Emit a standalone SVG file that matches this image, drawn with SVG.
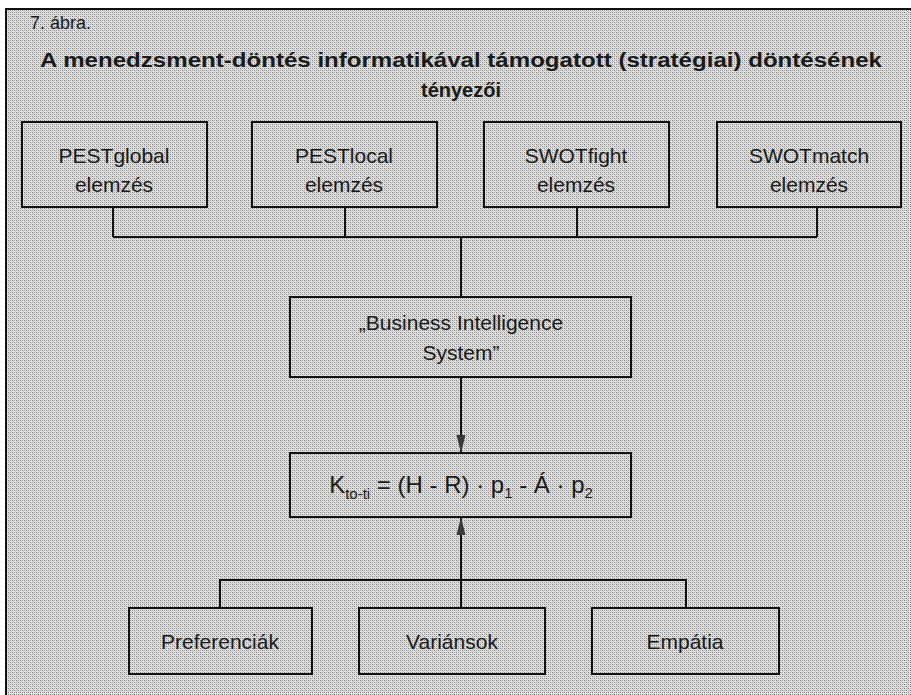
<svg xmlns="http://www.w3.org/2000/svg" width="911" height="695" viewBox="0 0 911 695">
  <defs>
    <pattern id="dots" width="4" height="4" patternUnits="userSpaceOnUse">
      <rect width="4" height="4" fill="#e2e2e2"/>
      <rect x="0" y="0" width="1" height="1" fill="#7e7e7e"/>
      <rect x="2" y="2" width="1" height="1" fill="#7e7e7e"/>
      <rect x="2" y="0" width="1" height="1" fill="#a8a8a8"/>
      <rect x="0" y="2" width="1" height="1" fill="#a8a8a8"/>
      <rect x="1" y="1" width="1" height="1" fill="#c8c8c8"/>
      <rect x="3" y="3" width="1" height="1" fill="#c8c8c8"/>
    </pattern>
    <marker id="arrow" viewBox="0 0 18 10" refX="18" refY="5" markerWidth="18" markerHeight="10" markerUnits="userSpaceOnUse" orient="auto">
      <path d="M0,0.5 L18,5 L0,9.5 Z" fill="#3a3a3a"/>
    </marker>
  </defs>
  <style>
    .box { fill: none; stroke: #111; stroke-width: 2; }
    .line { fill: none; stroke: #111; stroke-width: 2; }
    .t { font-family: "Liberation Sans", "DejaVu Sans", sans-serif; font-size: 21px; fill: #1a1a1a; text-anchor: middle; }
    .title { font-family: "Liberation Sans", "DejaVu Sans", sans-serif; font-size: 20px; font-weight: bold; fill: #1a1a1a; text-anchor: middle; }
  </style>

  <rect x="0" y="0" width="911" height="695" fill="#ffffff"/>
  <rect x="6" y="9" width="915" height="700" fill="url(#dots)" stroke="#111" stroke-width="2"/>

  <text x="30" y="29" style="font-family:'Liberation Sans','DejaVu Sans',sans-serif;font-size:18px;fill:#1a1a1a">7. ábra.</text>
  <text class="title" x="461" y="67" textLength="842" lengthAdjust="spacingAndGlyphs">A menedzsment-döntés informatikával támogatott (stratégiai) döntésének</text>
  <text class="title" x="461" y="97">tényezői</text>

  <g id="connectors">
    <path class="line" d="M113,207 V237 M345,207 V237 M577,207 V237 M817,207 V237 M113,237 H817 M461,237 V297"/>
    <path class="line" d="M461,377 V453" marker-end="url(#arrow)"/>
    <path class="line" d="M220,608 V580 H686 V608 M461,608 V517" marker-end="url(#arrow)"/>
  </g>

  <g id="pestglobal">
    <rect class="box" x="22" y="122" width="185" height="85"/>
    <text class="t" x="114" y="163">PESTglobal</text>
    <text class="t" x="114" y="192">elemzés</text>
  </g>
  <g id="pestlocal">
    <rect class="box" x="252" y="122" width="185" height="85"/>
    <text class="t" x="344" y="163">PESTlocal</text>
    <text class="t" x="344" y="192">elemzés</text>
  </g>
  <g id="swotfight">
    <rect class="box" x="484" y="122" width="185" height="85"/>
    <text class="t" x="576" y="163">SWOTfight</text>
    <text class="t" x="576" y="192">elemzés</text>
  </g>
  <g id="swotmatch">
    <rect class="box" x="717" y="122" width="184" height="85"/>
    <text class="t" x="809" y="163">SWOTmatch</text>
    <text class="t" x="809" y="192">elemzés</text>
  </g>

  <g id="bis">
    <rect class="box" x="290" y="297" width="341" height="80"/>
    <text class="t" x="461" y="330">„Business Intelligence</text>
    <text class="t" x="461" y="360">System”</text>
  </g>

  <g id="formula">
    <rect class="box" x="290" y="453" width="341" height="64"/>
    <text x="461" y="493" style="font-family:'Liberation Sans','DejaVu Sans',sans-serif;font-size:24px;fill:#1a1a1a;text-anchor:middle">K<tspan font-size="15" dy="6">to-ti</tspan><tspan dy="-6"> = (H - R) · p</tspan><tspan font-size="15" dy="5">1</tspan><tspan dy="-5"> - Á · p</tspan><tspan font-size="15" dy="5">2</tspan></text>
  </g>

  <g id="preferenciak">
    <rect class="box" x="129" y="608" width="183" height="66"/>
    <text class="t" x="220" y="649">Preferenciák</text>
  </g>
  <g id="variansok">
    <rect class="box" x="359" y="608" width="186" height="66"/>
    <text class="t" x="452" y="649">Variánsok</text>
  </g>
  <g id="empatia">
    <rect class="box" x="592" y="608" width="187" height="66"/>
    <text class="t" x="685" y="649">Empátia</text>
  </g>
</svg>
